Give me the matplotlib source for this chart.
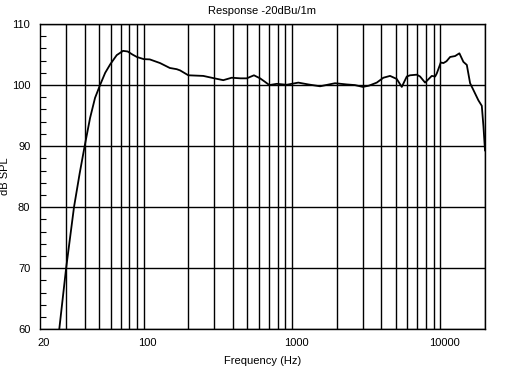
#!/usr/bin/env python3
# frequency response plot, log x axis
import matplotlib
matplotlib.use('Agg')
import matplotlib.pyplot as plt
import matplotlib.ticker as mtick
import matplotlib.transforms as mtrans

# data
freq_hz = [26.4, 30, 33.9, 37, 40, 43.5, 47, 50.8, 55, 59.5, 65.8, 72.6, 78, 84,
           90, 100, 110, 129, 150, 167, 176, 200, 252, 300, 344, 392, 450, 495,
           554, 609, 660, 703, 789, 922, 1103, 1289, 1546, 1950, 2340, 2650,
           3000, 3300, 3726, 4130, 4580, 5080, 5495, 5940, 6250, 6935, 7300,
           7890, 8755, 9225, 9460, 10070, 10485, 11000, 11640, 12570, 13440,
           14300, 15080, 15870, 16700, 18050, 19030, 19530, 20000]
spl_db = [58, 70, 80, 85.5, 90, 94.6, 97.9, 100, 102, 103.4, 104.9, 105.6, 105.5,
          105.0, 104.6, 104.25, 104.2, 103.6, 102.8, 102.6, 102.4, 101.6, 101.5,
          101.1, 100.8, 101.2, 101.1, 101.1, 101.6, 101.1, 100.5, 100.0, 100.2,
          100.05, 100.4, 100.1, 99.8, 100.3, 100.1, 100.0, 99.7, 99.9, 100.4,
          101.2, 101.5, 101.0, 99.7, 101.4, 101.6, 101.7, 101.4, 100.4, 101.5,
          101.4, 101.9, 103.7, 103.6, 103.9, 104.6, 104.75, 105.2, 103.8, 103.3,
          100.3, 99.2, 97.5, 96.6, 93.2, 89.3]

x_labels = [20, 100, 1000, 10000]
y_labels = [60, 70, 80, 90, 100, 110]
# vertical grid lines: 30..90, 100..900, 1000..9000, 10000, 20000
v_grid = [m * d for d in (10, 100, 1000) for m in range(1, 10) if m * d > 20] + [10000, 20000]

plt.rcParams['font.family'] = ['Liberation Sans', 'DejaVu Sans']

fig = plt.figure(figsize=(5.09, 3.71), dpi=100)
ax = fig.add_axes([40 / 509, 1 - 329.3 / 371, 445 / 509, 305.3 / 371])

for f in v_grid:
    ax.axvline(f, color='black', lw=1.0, zorder=1)
for y in y_labels:
    ax.axhline(y, color='black', lw=1.0, zorder=1)

ax.plot(freq_hz, spl_db, color='black', lw=1.3, zorder=3)

ax.set_xscale('log')
ax.set_xlim(20, 20000)
ax.set_ylim(60, 110)

ax.xaxis.set_major_locator(mtick.FixedLocator(x_labels))
ax.xaxis.set_major_formatter(mtick.FixedFormatter([str(v) for v in x_labels]))
ax.xaxis.set_minor_locator(mtick.NullLocator())
ax.tick_params(axis='x', length=0, pad=6, labelsize=8)
# labels sit a bit to the right of their positions in the reference
offset = mtrans.ScaledTranslation(4 / 100, 0, fig.dpi_scale_trans)
for lab in ax.get_xticklabels():
    lab.set_transform(lab.get_transform() + offset)

ax.set_yticks(y_labels)
ax.yaxis.set_minor_locator(mtick.MultipleLocator(2))
ax.tick_params(axis='y', which='major', length=0, pad=7, labelsize=8)
ax.tick_params(axis='y', which='minor', direction='in', length=4, width=0.8)

for s in ax.spines.values():
    s.set_linewidth(1.0)

ax.set_xlabel('Frequency (Hz)', fontsize=8, labelpad=6)
ax.set_ylabel('dB SPL', fontsize=8)
ax.yaxis.set_label_coords(-0.068, 0.5)
ax.set_title('Response -20dBu/1m', fontsize=8, pad=7)

plt.savefig('out.png', dpi=100)
